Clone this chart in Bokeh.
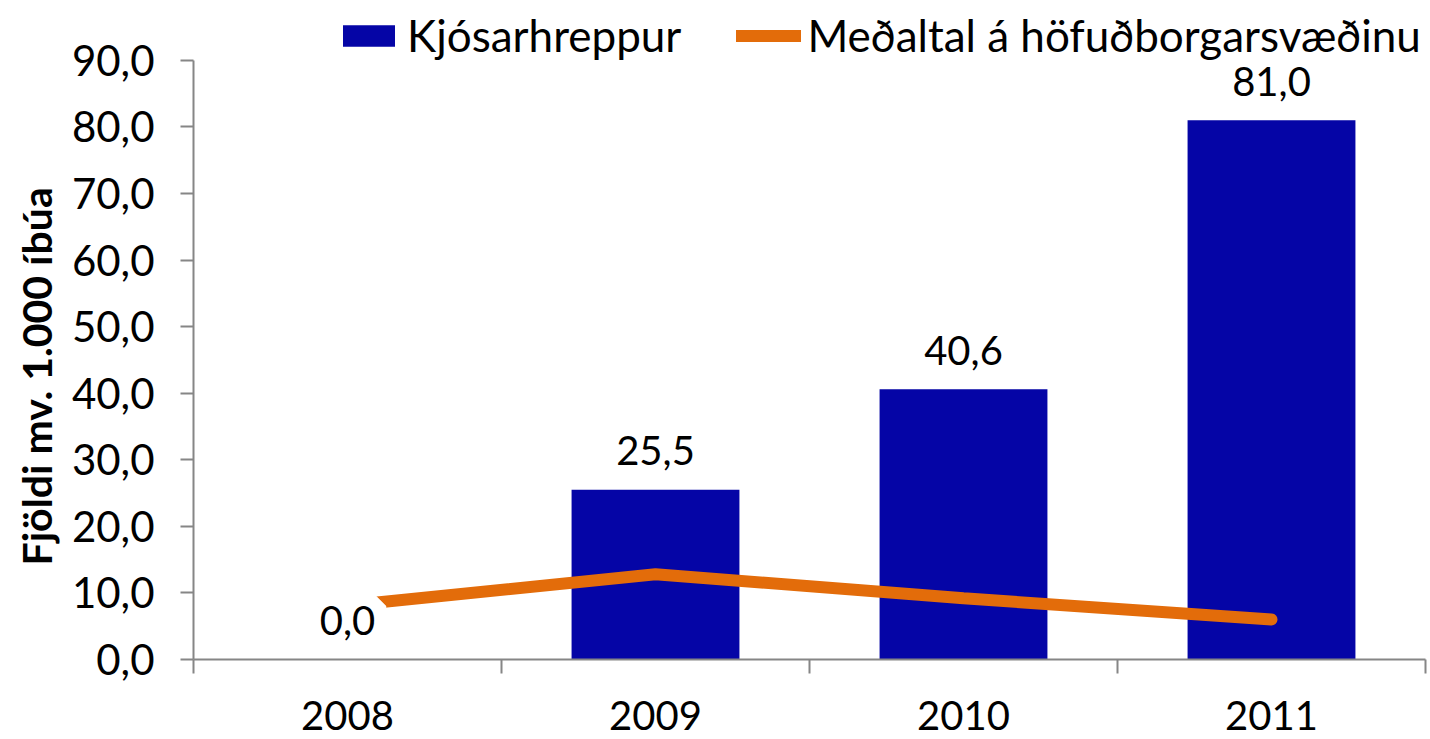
from bokeh.plotting import figure
from bokeh.models import (ColumnDataSource, FixedTicker, Range1d, LabelSet, Legend, LegendItem, Title)
from bokeh.core.properties import value
from bokeh.embed import file_html
from bokeh.resources import INLINE

# ---- data ----
years = ["2008", "2009", "2010", "2011"]
kjosarhreppur = [0.0, 25.5, 40.6, 81.0]
medaltal = [8.1, 12.8, 9.2, 6.0]
y_ticks = [0, 10, 20, 30, 40, 50, 60, 70, 80, 90]
y_tick_labels = ["0,0", "10,0", "20,0", "30,0", "40,0", "50,0", "60,0", "70,0", "80,0", "90,0"]
bar_labels = ["0,0", "25,5", "40,6", "81,0"]
series_names = ["Kjósarhreppur", "Meðaltal á höfuðborgarsvæðinu"]
y_title = "Fjöldi mv. 1.000 íbúa"

FONT = "Lato"
BLUE = "#0505A6"
ORANGE = "#E36C0A"
GREY = "#868686"

xs = [i + 0.5 for i in range(len(years))]
src = ColumnDataSource(dict(x=xs, bar=kjosarhreppur, line=medaltal, lab=bar_labels))

p = figure(width=1430, height=739, output_backend="svg", toolbar_location=None,
           x_range=Range1d(0, len(years)), y_range=Range1d(0, 99.0),
           min_border_left=193, min_border_right=5, min_border_top=0, min_border_bottom=80)
p.outline_line_color = None
p.grid.grid_line_color = None
p.background_fill_color = "white"

bars = p.vbar(x="x", top="bar", width=0.545, source=src, fill_color=BLUE, line_color=None)
line = p.line(x="x", y="line", source=src, line_color=ORANGE, line_width=12, line_cap="round")

labels = LabelSet(x="x", y="bar", text="lab", source=src, text_align="center",
                  text_baseline="middle", y_offset=39, text_font=value(FONT),
                  text_font_size="40px", text_color="black",
                  border_line_color="white", border_line_width=22,
                  background_fill_color="white", background_fill_alpha=1.0)
p.add_layout(labels)

# x axis: labels at centres, separator ticks between categories
p.xaxis.ticker = FixedTicker(ticks=xs, minor_ticks=list(range(len(years) + 1)))
p.xaxis.major_label_overrides = {x: y for x, y in zip(xs, years)}
p.xaxis.major_tick_out = 0
p.xaxis.major_tick_in = 0
p.xaxis.minor_tick_out = 14
p.xaxis.minor_tick_in = 0
p.xaxis.minor_tick_line_color = GREY
p.xaxis.minor_tick_line_width = 2
p.xaxis.axis_line_color = GREY
p.xaxis.axis_line_width = 2
p.xaxis.major_label_text_font = FONT
p.xaxis.major_label_text_font_size = "40px"
p.xaxis.major_label_text_color = "black"
p.xaxis.major_label_standoff = 27

p.yaxis.bounds = (0, 90)
p.yaxis.ticker = FixedTicker(ticks=y_ticks, minor_ticks=[])
p.yaxis.major_label_overrides = {t: l for t, l in zip(y_ticks, y_tick_labels)}
p.yaxis.major_tick_out = 13
p.yaxis.major_tick_in = 0
p.yaxis.major_tick_line_color = GREY
p.yaxis.major_tick_line_width = 2
p.yaxis.axis_line_color = GREY
p.yaxis.axis_line_width = 2
p.yaxis.major_label_text_font = FONT
p.yaxis.major_label_text_font_size = "42px"
p.yaxis.major_label_text_color = "black"
p.yaxis.major_label_standoff = 26

# y-axis title, anchored above the frame bottom so it is centred on the 0–90 span
p.add_layout(Title(text=y_title, align="left", offset=94, vertical_align="bottom",
                   text_font=FONT, text_font_style="bold", text_font_size="41px",
                   text_color="black", standoff=16), "left")

legend = Legend(items=[LegendItem(label=series_names[0], renderers=[bars]),
                       LegendItem(label=series_names[1], renderers=[line])],
                orientation="horizontal", location=(143, 598),
                label_text_font=FONT, label_text_font_size="44px",
                label_text_color="black", glyph_width=65, glyph_height=27,
                label_standoff=6, spacing=55, padding=4, margin=0,
                border_line_color=None, background_fill_alpha=0)
p.add_layout(legend, "center")

open("out.html", "w").write(file_html(p, INLINE))
